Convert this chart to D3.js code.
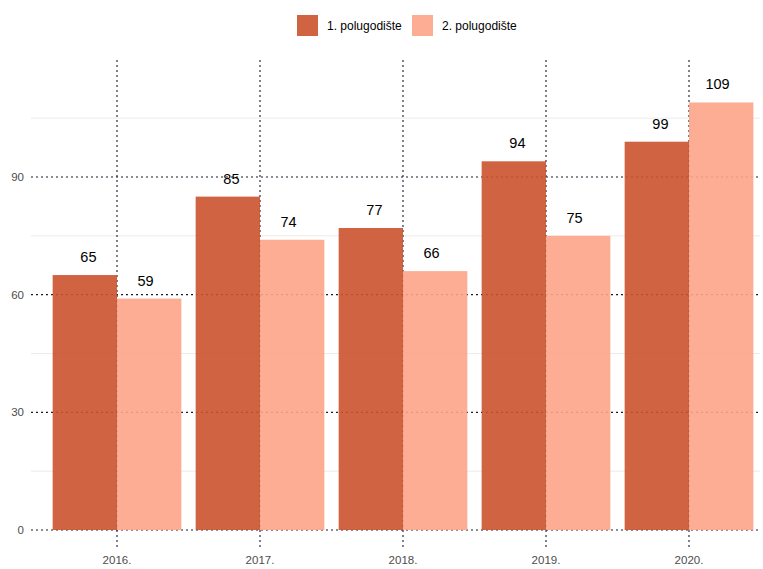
<!DOCTYPE html>
<html><head><meta charset="utf-8">
<script src="https://cdn.jsdelivr.net/npm/d3@7"></script>
<style>body{margin:0;background:#fff}svg{display:block}text{font-family:"Liberation Sans",Arial,sans-serif}</style>
</head><body><svg id="c" width="763" height="569"></svg>
<script>
const categories = ["2016.", "2017.", "2018.", "2019.", "2020."];
const seriesNames = ["1. polugodište", "2. polugodište"];
const firstHalf = [65, 85, 77, 94, 99];
const secondHalf = [59, 74, 66, 75, 109];
const yTicks = [0, 30, 60, 90];
const yMinor = [15, 45, 75, 105];
const colors = ["#cb522e", "#fca488"];

(function () {
const svg = d3.select("#c");
const pLeft = 31, pRight = 760, pTop = 60, pBottom = 550;
const x = d3.scaleLinear().domain([-0.6, 4.6]).range([117 - 0.6*143, 117 + 4.6*143]);
const y = d3.scaleLinear().domain([0, 90]).range([530, 177]);
const step = x(1) - x(0);
const bw = step * 0.9 / 2;
const lw = step * 0.8 / 2;

// minor grid
svg.append("g").selectAll("line").data(yMinor).join("line")
  .attr("x1", pLeft).attr("x2", pRight).attr("y1", d => y(d)).attr("y2", d => y(d))
  .attr("stroke", "#ebebeb").attr("stroke-width", 1);
// major grid dotted
const dot = {stroke: "#1a1a2e", w: 1.1, dash: "2,3"};
svg.append("g").selectAll("line").data(yTicks).join("line")
  .attr("x1", pLeft).attr("x2", pRight).attr("y1", d => y(d)).attr("y2", d => y(d))
  .attr("stroke", dot.stroke).attr("stroke-width", dot.w).attr("stroke-dasharray", dot.dash);
svg.append("g").selectAll("line").data(categories).join("line")
  .attr("x1", (d, i) => x(i)).attr("x2", (d, i) => x(i)).attr("y1", pTop).attr("y2", pBottom)
  .attr("stroke", dot.stroke).attr("stroke-width", dot.w).attr("stroke-dasharray", dot.dash);

// bars
const series = [firstHalf, secondHalf];
series.forEach((vals, s) => {
  const g = svg.append("g");
  g.selectAll("rect").data(vals).join("rect")
    .attr("x", (d, i) => x(i) - bw + s * bw).attr("width", bw)
    .attr("y", d => y(d)).attr("height", d => y(0) - y(d))
    .attr("fill", colors[s]).attr("fill-opacity", 0.9);
  g.selectAll("text").data(vals).join("text")
    .attr("x", (d, i) => x(i) - lw/2 + s * lw).attr("y", d => y(d) - 13)
    .attr("text-anchor", "middle").attr("font-size", 14.5).attr("fill", "#000")
    .text(d => d);
});

// y labels
svg.append("g").selectAll("text").data(yTicks).join("text")
  .attr("x", 24).attr("y", d => y(d)).attr("dy", "0.35em").attr("text-anchor", "end")
  .attr("font-size", 11.5).attr("fill", "#4d4d4d").text(d => d);
// x labels
svg.append("g").selectAll("text").data(categories).join("text")
  .attr("x", (d, i) => x(i)).attr("y", 569 - 5).attr("text-anchor", "middle")
  .attr("font-size", 11.5).attr("fill", "#4d4d4d").text(d => d);

// legend
const lg = svg.append("g");
const lx = [297, 412];
seriesNames.forEach((n, s) => {
  lg.append("rect").attr("x", lx[s]).attr("y", 15).attr("width", 21).attr("height", 21)
    .attr("fill", colors[s]).attr("fill-opacity", 0.9);
  lg.append("text").attr("x", lx[s] + 30).attr("y", 25.5).attr("dy", "0.35em")
    .attr("font-size", 12).attr("fill", "#000").text(n);
});
})();
</script></body></html>
